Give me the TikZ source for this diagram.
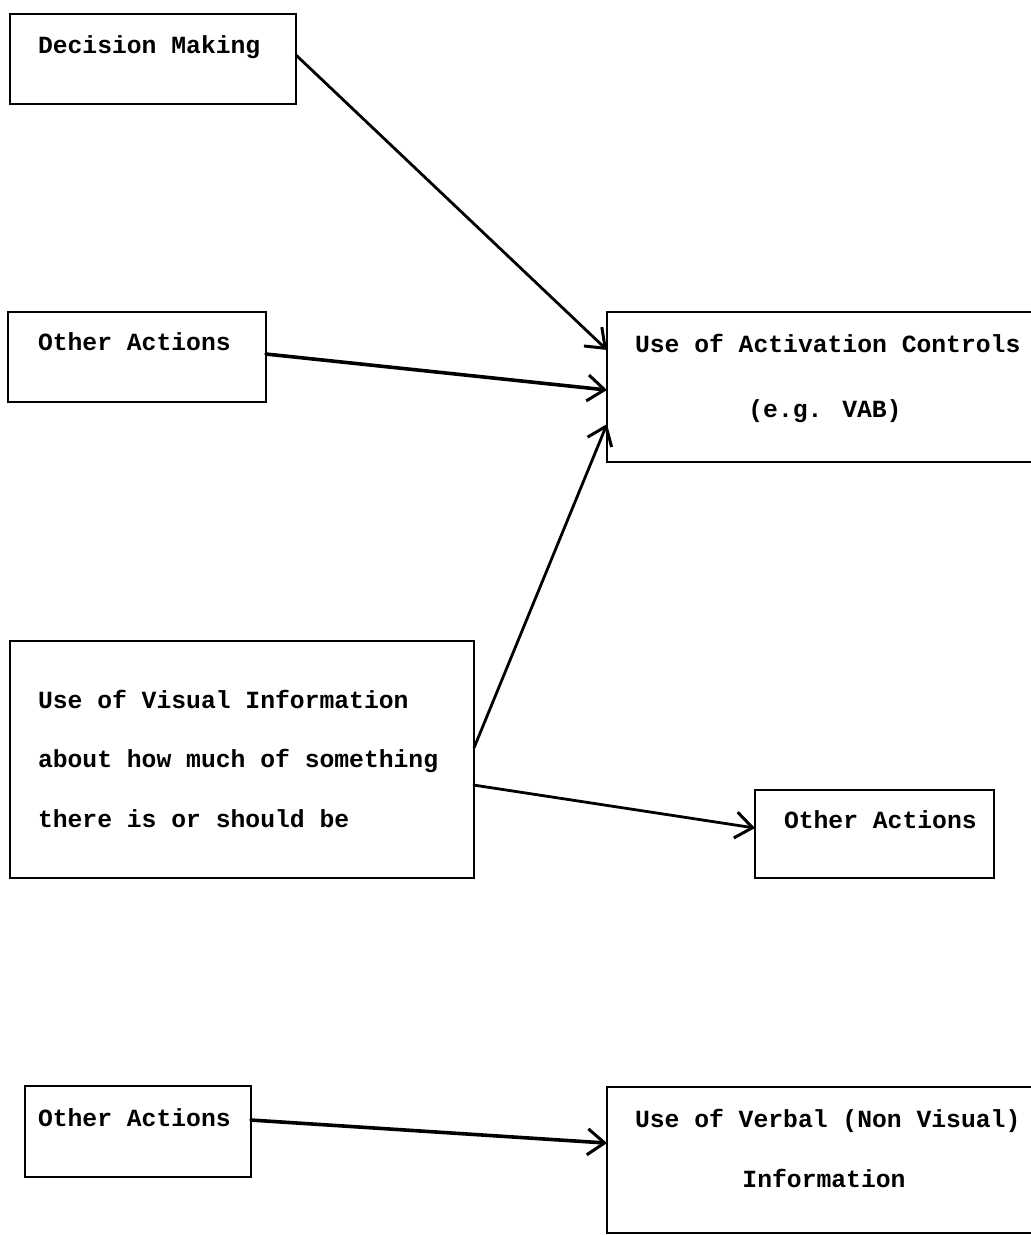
\documentclass[tikz,border=0pt]{standalone}
\usepackage{fontspec}
\usetikzlibrary{arrows.meta,calc}
\newfontfamily\twfont{Liberation Mono}
\begin{document}
\begin{tikzpicture}[x=1pt,y=-1pt,
  box/.style={draw=black, line width=1.8pt, inner sep=0pt, outer sep=0pt, anchor=north west, rectangle},
  txt/.style={inner sep=0pt, outer sep=0pt, font=\twfont\bfseries\fontsize{24.7pt}{30pt}\selectfont, text=black},
  conn/.style={line width=2.8pt, line cap=round, -{Straight Barb[length=17pt,width=26pt,line width=3pt]}},
  heavy/.style={line width=3.6pt}]
\useasboundingbox (0,0) rectangle (1031,1235);
\clip (0,0) rectangle (1031,1235);
\fill[white] (0,0) rectangle (1031,1235);

% boxes
\node[box, minimum width=286pt, minimum height=90pt] (dm) at (10,14) {};
\node[box, minimum width=258pt, minimum height=90pt] (oa1) at (8,312) {};
\node[box, minimum width=438pt, minimum height=150pt] (ac) at (607,312) {};
\node[box, minimum width=464pt, minimum height=237pt] (vi) at (10,641) {};
\node[box, minimum width=239pt, minimum height=88pt] (oa2) at (755,790) {};
\node[box, minimum width=226pt, minimum height=91pt] (oa3) at (25,1086) {};
\node[box, minimum width=438pt, minimum height=146pt] (vb) at (607,1087) {};

% texts
\node[txt, anchor=base west] (tdm) at (38,53) {Decision Making};
\node[txt, anchor=base west] (toa1) at (38,350) {Other Actions};
\node[txt, anchor=base west] (tac1) at (635,352) {Use of Activation Controls};
\node[txt, anchor=base] (tac2) at (825,417) {(e.g. VAB)};
\node[txt, anchor=base west] (tvi1) at (38,708) {Use of Visual Information};
\node[txt, anchor=base west] (tvi2) at (38,767) {about how much of something};
\node[txt, anchor=base west] (tvi3) at (38,827) {there is or should be};
\node[txt, anchor=base west] (toa2) at (784,828) {Other Actions};
\node[txt, anchor=base west] (toa3) at (38,1126) {Other Actions};
\node[txt, anchor=base west] (tvb1) at (635,1127) {Use of Verbal (Non Visual)};
\node[txt, anchor=base] (tvb2) at (824,1187) {Information};

% connectors
\draw[conn] ($(dm.north east)!0.456!(dm.south east)$) -- ($(ac.north west)!0.253!(ac.south west)$);
\draw[conn, heavy] ($(oa1.north east)!0.467!(oa1.south east)$) -- ($(ac.north west)!0.52!(ac.south west)$);
\draw[conn] ($(vi.north east)!0.451!(vi.south east)$) -- ($(ac.north west)!0.747!(ac.south west)$);
\draw[conn] ($(vi.north east)!0.608!(vi.south east)$) -- ($(oa2.north west)!0.432!(oa2.south west)$);
\draw[conn, heavy] ($(oa3.north east)!0.374!(oa3.south east)$) -- ($(vb.north west)!0.384!(vb.south west)$);
\end{tikzpicture}
\end{document}
